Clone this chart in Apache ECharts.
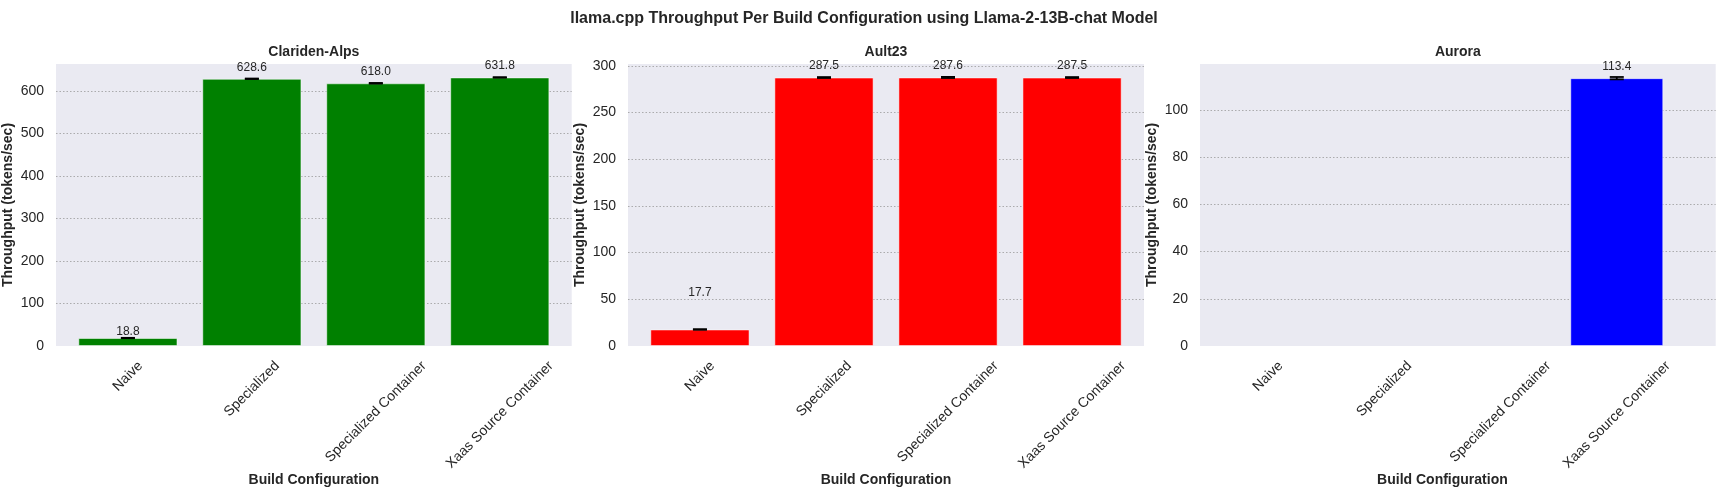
<!DOCTYPE html>
<html>
<head>
<meta charset="utf-8">
<script src="https://cdn.jsdelivr.net/npm/echarts@6/dist/echarts.min.js"></script>
<style>
html,body{margin:0;padding:0;background:#fff;}
#c{width:1728px;height:500px;}
</style>
</head>
<body>
<div id="c"></div>
<script>
const mainTitle = 'llama.cpp Throughput Per Build Configuration using Llama-2-13B-chat Model';
const categories = ['Naive', 'Specialized', 'Specialized Container', 'Xaas Source Container'];
const systems = ['Clariden-Alps', 'Ault23', 'Aurora'];
const claridenValues = [18.8, 628.6, 618.0, 631.8];
const claridenErrors = [0.4, 0.6, 0.8, 0.5];
const aultValues = [17.7, 287.5, 287.6, 287.5];
const aultErrors = [0.3, 0.5, 0.6, 0.5];
const auroraValues = [null, null, null, 113.4];
const auroraErrors = [null, null, null, 0.5];
const yMax = [663.4, 302, 119.4];
const yInterval = [100, 50, 20];
const colors = ['#008000', '#ff0000', '#0000ff'];

const FONT = '"Liberation Sans", Arial, Helvetica, sans-serif';
const TXT = '#262626';

const panelValues = [claridenValues, aultValues, auroraValues];
const panelErrors = [claridenErrors, aultErrors, auroraErrors];

// value-label distances (px) above each bar, per panel
const labelDistance = [[0, 5.5, 5.5, 5.5], [31, 5.5, 5.5, 5.5], [5, 5, 5, 5]];

// outer plot areas (background) and inner category band areas (x margins like matplotlib)
const outer = [
  {left: 56, top: 64, width: 515.7, height: 282},
  {left: 628, top: 64, width: 516, height: 282},
  {left: 1200, top: 64, width: 515.7, height: 282}
];
const XPAD = 0.58; // x-limits -0.58 .. n-1+0.58 in category units
const inner = outer.map(g => {
  const span = categories.length - 1 + 2 * XPAD;
  const unit = g.width / span;
  const off = (XPAD - 0.5) * unit;
  return {left: g.left + off, top: g.top, width: unit * categories.length, height: g.height};
});

// measure category labels so rotated labels are centred on their tick (like matplotlib)
const mctx = document.createElement('canvas').getContext('2d');
mctx.font = '14px ' + FONT;
const LH = 16;
const rich = {};
categories.forEach((c, i) => {
  const w = mctx.measureText(c).width;
  const p = (w + LH) / 2;
  rich['c' + i] = {fontSize: 14, fontFamily: FONT, color: TXT, lineHeight: LH, padding: [p, p, 0, 0]};
});

const chart = echarts.init(document.getElementById('c'), null, {renderer: 'canvas'});

const xAxes = [], yAxes = [], series = [], titles = [];
titles.push({
  text: mainTitle, left: 'center', top: 11, padding: 0,
  textStyle: {fontSize: 16, fontWeight: 'bold', fontFamily: FONT, color: TXT}
});
const nameStyle = {fontSize: 14, fontWeight: 'bold', fontFamily: FONT, color: TXT};

systems.forEach((s, k) => {
  const g = outer[k];
  titles.push({
    text: s, left: g.left + g.width / 2, textAlign: 'center', top: 45, padding: 0,
    textStyle: {fontSize: 14, fontWeight: 'bold', fontFamily: FONT, color: TXT}
  });
  // outer grid axes (k)
  xAxes[k] = {type: 'value', gridIndex: k, show: false, min: 0, max: 1};
  yAxes[k] = {
    type: 'value', gridIndex: k, min: 0, max: yMax[k], interval: yInterval[k],
    axisLine: {show: false}, axisTick: {show: false},
    axisLabel: {fontSize: 14, fontFamily: FONT, color: TXT, margin: 12, showMaxLabel: false},
    splitLine: {show: true, showMinLine: false, showMaxLine: false, lineStyle: {color: '#9a9a9a', type: [1.5, 2], width: 0.8}},
    name: 'Throughput (tokens/sec)', nameLocation: 'middle', nameGap: 41, nameMoveOverlap: false,
    nameTextStyle: nameStyle
  };
  // inner grid axes (3+k)
  xAxes[3 + k] = {
    type: 'category', gridIndex: 3 + k, data: categories,
    axisLine: {show: false}, axisTick: {show: false},
    axisLabel: {
      interval: 0, rotate: 45, align: 'center', verticalAlign: 'middle', margin: 12,
      formatter: v => '{c' + categories.indexOf(v) + '|' + v + '}',
      rich: rich
    },
    name: 'Build Configuration', nameLocation: 'middle', nameGap: 127, nameMoveOverlap: false,
    nameTextStyle: nameStyle
  };
  yAxes[3 + k] = {type: 'value', gridIndex: 3 + k, show: false, min: 0, max: yMax[k]};

  series.push({
    type: 'bar', xAxisIndex: 3 + k, yAxisIndex: 3 + k,
    data: panelValues[k].map((v, i) => v == null ? '-' : {value: v, label: {distance: labelDistance[k][i]}}),
    barCategoryGap: '20%',
    itemStyle: {color: colors[k], borderColor: 'rgba(255,255,255,0.5)', borderWidth: 1},
    label: {
      show: true, position: 'top', distance: 5,
      fontSize: 12, fontFamily: FONT, color: TXT,
      formatter: p => Number(p.value).toFixed(1)
    },
    z: 2
  });
  const errData = [];
  panelValues[k].forEach((v, i) => {
    if (v != null) errData.push([i, v - panelErrors[k][i], v + panelErrors[k][i]]);
  });
  series.push({
    type: 'custom', xAxisIndex: 3 + k, yAxisIndex: 3 + k, z: 5,
    data: errData,
    renderItem: (params, api) => {
      const x = api.value(0);
      const lo = api.coord([x, api.value(1)]);
      const hi = api.coord([x, api.value(2)]);
      const hw = 7;
      const st = {stroke: '#000', lineWidth: 1.8};
      return {type: 'group', children: [
        {type: 'line', shape: {x1: lo[0], y1: lo[1], x2: hi[0], y2: hi[1]}, style: st},
        {type: 'line', shape: {x1: hi[0] - hw, y1: hi[1], x2: hi[0] + hw, y2: hi[1]}, style: st},
        {type: 'line', shape: {x1: lo[0] - hw, y1: lo[1], x2: lo[0] + hw, y2: lo[1]}, style: st}
      ]};
    }
  });
});

chart.setOption({
  backgroundColor: '#ffffff',
  animation: false,
  title: titles,
  grid: outer.map(g => Object.assign({show: true, backgroundColor: '#eaeaf2', borderWidth: 0, containLabel: false}, g))
    .concat(inner.map(g => Object.assign({show: false, containLabel: false}, g))),
  xAxis: xAxes,
  yAxis: yAxes,
  series: series
});
</script>
</body>
</html>
